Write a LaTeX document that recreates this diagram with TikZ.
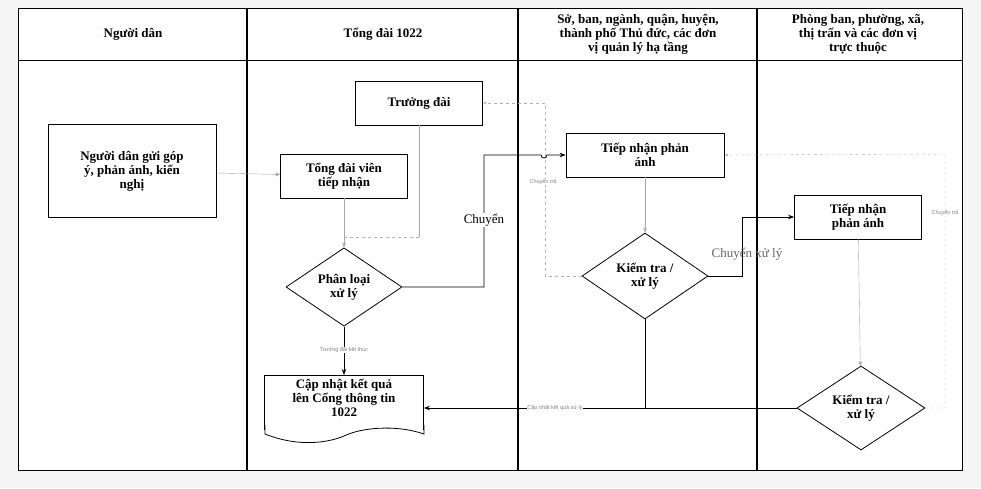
\documentclass[tikz,border=0pt]{standalone}
\usepackage{fontspec}
\setmainfont{Liberation Serif}
\newfontfamily\smallsans{Liberation Sans}
\usetikzlibrary{shapes.geometric,arrows.meta}
\begin{document}
\begin{tikzpicture}[x=1pt,y=-1pt,
  bf/.style={font=\bfseries\fontsize{13}{14}\selectfont},
  box/.style={draw,thick,minimum width=#1,minimum height=44,align=center,bf,inner sep=1pt},
  box/.default=127,
  dia/.style={draw,thick,diamond,minimum width=#1,minimum height=84,inner sep=0pt,align=center,bf},
  dia/.default=126,
  hd/.style={align=center,bf},
  ga/.style={gray!70,-{Stealth[length=5pt]}},
  ba/.style={thick,-{Stealth[length=6pt]}},
  da/.style={gray!60,dashed,-{Stealth[length=4pt]}},
  tl/.style={font=\smallsans\fontsize{5.5}{6}\selectfont,text=gray,fill=white,inner sep=0.5pt},
  lab/.style={font=\fontsize{13}{14}\selectfont,fill=white,inner sep=1pt}]
\useasboundingbox (0,0) rectangle (981,488);
\fill[gray!8] (0,0) rectangle (981,488);
\fill[white] (18,8) rectangle (962,470);
\draw[thick] (18,8) rectangle (962,470);
\draw[thick] (18,60) -- (962,60);
\foreach \x in {247,518,757} \draw[very thick] (\x,8) -- (\x,470);
\node[hd] (h1) at (133,34) {Người dân};
\node[hd] (h2) at (383,34) {Tổng đài 1022};
\node[hd] (h3) at (638,34) {Sở, ban, ngành, quận, huyện,\\thành phố Thủ đức, các đơn\\vị quản lý hạ tầng};
\node[hd] (h4) at (858,34) {Phòng ban, phường, xã,\\thị trấn và các đơn vị\\trực thuộc};
\node[box=168,minimum height=93] (nd) at (132,171) {Người dân gửi góp\\ý, phản ánh, kiến\\nghị};
\node[box] (tdv) at (344,176) {Tổng đài viên\\tiếp nhận};
\node[box] (trd) at (419,103) {Trưởng đài};
\node[dia=116,minimum height=78] (pl) at (344,287) {Phân loại\\xử lý};
\node[draw,thick,minimum width=159,minimum height=58,anchor=north,align=center,bf,inner sep=2pt,text depth=14pt] (cn) at (344,375) {Cập nhật kết quả\\lên Cổng thông tin\\1022};
\node[box=158] (tn1) at (645,155) {Tiếp nhận phản\\ánh};
\node[dia,minimum height=86] (kt1) at (645,276) {Kiểm tra /\\xử lý};
\node[box] (tn2) at (858,217) {Tiếp nhận\\phản ánh};
\node[dia=128] (kt2) at (861,408) {Kiểm tra /\\xử lý};
\fill[white] (264,430) rectangle (425,445);
\draw[thick] (265,425) -- (265,434) .. controls (300,448) and (330,442) .. (344,436) .. controls (360,428) and (395,424) .. (424,434) -- (424,425);
% connectors
\draw[ga] (nd) -- (tdv);
\draw[ga] (tdv) -- (pl);
\draw[gray!70] (trd.south) -- (419,237);
\draw[gray!60,dashed] (419,237) -- (344,237);
\draw[ba] (pl.east) -- (484,287) -- (484,155) -- (541,155) arc[start angle=180,end angle=0,radius=3] -- (tn1.west);
\node[lab] at (484,220) {Chuyển};
\draw[da] (kt1.west) -- (545,276) -- (545,103) -- (trd.east);
\node[tl] at (543,182) {Chuyển trả};
\draw[ga] (tn1) -- (kt1);
\draw[ba] (kt1.east) -- (742,276) -- (742,217) -- (tn2.west);
\node[lab,text=gray!80!black,fill=none] at (747,254) {Chuyển xử lý};
\draw[ga] (tn2) -- (kt2);
\draw[da] (kt2.east) -- (945,408) -- (945,154) -- (tn1.east);
\node[tl] at (945,213) {Chuyển trả};
\draw[thick] (kt1.south) -- (645,408);
\draw[ba] (kt2.west) -- (cn.east |- 0,408);
\node[tl] at (555,408) {Cập nhật kết quả xử lý};
\draw[ba] (pl.south) -- (cn.north);
\node[tl] at (344,350) {Trưởng đài kết thúc};
\end{tikzpicture}
\end{document}
